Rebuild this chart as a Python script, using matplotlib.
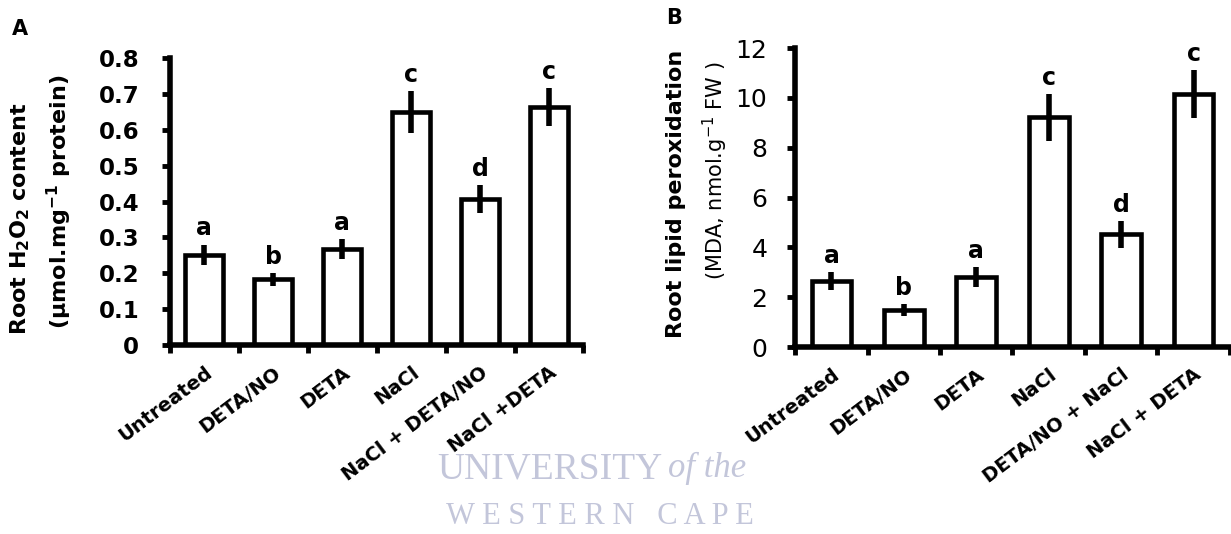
import numpy as np
import matplotlib.pyplot as plt

plt.rcParams['font.family'] = ['DejaVu Sans']
plt.rcParams['mathtext.fontset'] = 'dejavusans'

# panel A: root H2O2
labels_a = ['Untreated', 'DETA/NO', 'DETA', 'NaCl', 'NaCl + DETA/NO', 'NaCl +DETA']
h2o2 = [0.252, 0.183, 0.267, 0.650, 0.407, 0.663]
h2o2_err = [0.028, 0.018, 0.028, 0.058, 0.040, 0.053]
letters_a = ['a', 'b', 'a', 'c', 'd', 'c']

# panel B: lipid peroxidation (MDA)
labels_b = ['Untreated', 'DETA/NO', 'DETA', 'NaCl', 'DETA/NO + NaCl', 'NaCl + DETA']
mda = [2.66, 1.49, 2.82, 9.22, 4.52, 10.16]
mda_err = [0.36, 0.24, 0.40, 0.94, 0.55, 0.96]
letters_b = ['a', 'b', 'a', 'c', 'd', 'c']

fig = plt.figure(figsize=(12.31, 5.34), dpi=100)

# faint watermark
wm = '#c3c6da'
fig.text(0.538, 0.122, 'UNIVERSITY', family='Liberation Serif', fontsize=27,
         color=wm, ha='right', va='center', zorder=0)
fig.text(0.543, 0.122, 'of the', family='Liberation Serif', style='italic', fontsize=25,
         color=wm, ha='left', va='center', zorder=0)
fig.text(0.487, 0.033, 'W E S T E R N   C A P E', family='Liberation Serif', fontsize=22,
         color=wm, ha='center', va='center', zorder=0)


def draw(ax, vals, errs, letters, labels, ylim, yticks, tick_bold, ypad):
    x = np.arange(len(vals))
    ax.bar(x, vals, width=0.55, color='white', edgecolor='black', linewidth=3.3, zorder=2)
    ax.errorbar(x, vals, yerr=errs, fmt='none', ecolor='black', elinewidth=4,
                capsize=0, zorder=3)
    for xi, v, e, l in zip(x, vals, errs, letters):
        ax.annotate(l, (xi, v + e), xytext=(0, 3), textcoords='offset points',
                    ha='center', va='bottom', fontsize=17, fontweight='bold')
    ax.set_xlim(-0.5, len(vals) - 0.5)
    ax.set_ylim(*ylim)
    ax.set_yticks(yticks)
    ax.set_yticklabels([f'{t:g}' for t in yticks], fontsize=16.5 if tick_bold else 18,
                       fontweight='bold' if tick_bold else 'normal')
    ax.set_xticks(x)
    ax.set_xticklabels(labels, rotation=37, ha='right', va='top', rotation_mode='anchor',
                       fontsize=14, fontweight='bold')
    ax.set_xticks(np.arange(-0.5, len(vals)), minor=True)
    ax.tick_params(axis='x', which='major', length=0, pad=13)
    ax.tick_params(axis='x', which='minor', length=6, width=3.5, direction='out')
    ax.tick_params(axis='y', length=6, width=3.5, direction='out', pad=ypad)
    for s in ['top', 'right']:
        ax.spines[s].set_visible(False)
    for s in ['left', 'bottom']:
        ax.spines[s].set_linewidth(4)
    ax.patch.set_alpha(0)


ax1 = fig.add_axes([0.138, 0.354, 0.336, 0.537])
draw(ax1, h2o2, h2o2_err, letters_a, labels_a, (0, 0.8), np.arange(0, 0.81, 0.1), True, 16)
ax1.text(-0.361, 0.44, 'Root H$_\\mathbf{2}$O$_\\mathbf{2}$ content', transform=ax1.transAxes,
         rotation=90, ha='center', va='center', fontsize=16, fontweight='bold')
ax1.text(-0.266, 0.50, '(µmol.mg$^\\mathbf{-1}$ protein)', transform=ax1.transAxes,
         rotation=90, ha='center', va='center', fontsize=16, fontweight='bold')

ax2 = fig.add_axes([0.646, 0.350, 0.353, 0.560])
draw(ax2, mda, mda_err, letters_b, labels_b, (0, 12), np.arange(0, 13, 2), False, 14)
ax2.text(-0.274, 0.512, 'Root lipid peroxidation', transform=ax2.transAxes,
         rotation=90, ha='center', va='center', fontsize=16, fontweight='bold')
ax2.text(-0.184, 0.59, '(MDA, nmol.g$^{-1}$ FW )', transform=ax2.transAxes,
         rotation=90, ha='center', va='center', fontsize=15)

fig.text(0.010, 0.935, 'A', fontsize=15, fontweight='bold')
fig.text(0.541, 0.955, 'B', fontsize=15, fontweight='bold')

fig.savefig('out.png', dpi=100)
